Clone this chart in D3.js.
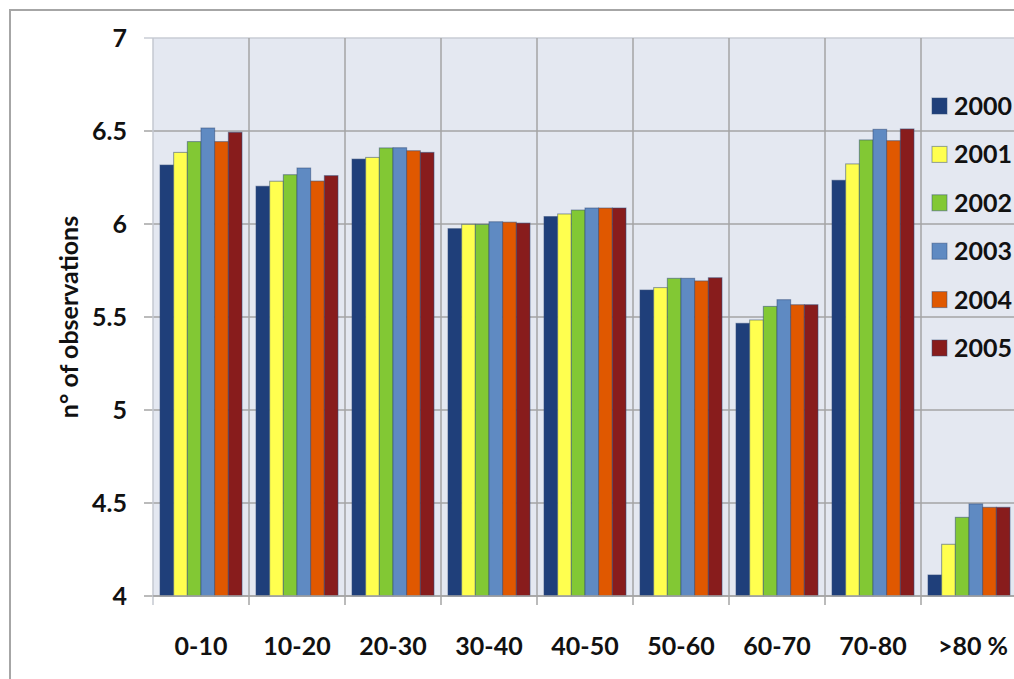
<!DOCTYPE html>
<html>
<head>
<meta charset="utf-8">
<script src="https://cdn.jsdelivr.net/npm/d3@7"></script>
<style>
  html, body { margin: 0; padding: 0; background: #fff; }
  svg { display: block; }
  text { font-family: Lato, "Open Sans", sans-serif; fill: #111; }
</style>
</head>
<body>
<svg id="chart" width="1014" height="679"></svg>
<script>
const categories = ["0-10", "10-20", "20-30", "30-40", "40-50", "50-60", "60-70", "70-80", ">80 %"];
const years = ["2000", "2001", "2002", "2003", "2004", "2005"];
const v2000 = [6.317, 6.203, 6.349, 5.975, 6.040, 5.645, 5.466, 6.235, 4.113];
const v2001 = [6.385, 6.230, 6.358, 5.998, 6.054, 5.658, 5.484, 6.323, 4.278];
const v2002 = [6.443, 6.265, 6.409, 5.998, 6.075, 5.708, 5.557, 6.452, 4.423];
const v2003 = [6.516, 6.301, 6.410, 6.012, 6.086, 5.708, 5.593, 6.509, 4.495];
const v2004 = [6.443, 6.231, 6.394, 6.010, 6.086, 5.694, 5.566, 6.448, 4.477];
const v2005 = [6.493, 6.260, 6.385, 6.005, 6.086, 5.711, 5.566, 6.511, 4.477];
const yTicks = [4, 4.5, 5, 5.5, 6, 6.5, 7];
const colors = ["#1f3f7a", "#ffff4f", "#82c834", "#5f8ac2", "#e05800", "#881c1c"];

const series = [v2000, v2001, v2002, v2003, v2004, v2005];

const svg = d3.select("#chart");
const plot = { left: 153, right: 1017, top: 38, bottom: 596 };

// outer frame
svg.append("rect").attr("x", 10).attr("y", 10).attr("width", 1030).attr("height", 700)
  .attr("fill", "none").attr("stroke", "#a6a6a6").attr("stroke-width", 2);

const x0 = d3.scaleBand().domain(categories).range([plot.left, plot.right]).padding(0);
const x1 = d3.scaleBand().domain(years).range([7, 89]).padding(0);
const y = d3.scaleLinear().domain([4, 7]).range([plot.bottom, plot.top]);

// plot background
svg.append("rect").attr("x", plot.left).attr("y", plot.top)
  .attr("width", plot.right - plot.left).attr("height", plot.bottom - plot.top)
  .attr("fill", "#e4e8f1");

// horizontal gridlines (extend left as ticks)
svg.append("g").selectAll("line").data(yTicks).join("line")
  .attr("x1", plot.left - 9).attr("x2", plot.right)
  .attr("y1", d => y(d)).attr("y2", d => y(d))
  .attr("stroke", d => d === 7 ? "#c8ccd4" : "#a4a4a4").attr("stroke-width", 1.5);

// vertical gridlines at category boundaries (extend below as ticks)
const bounds = categories.map(c => x0(c)).concat([plot.right]);
svg.append("g").selectAll("line").data(bounds).join("line")
  .attr("x1", d => d).attr("x2", d => d)
  .attr("y1", plot.top).attr("y2", plot.bottom + 9)
  .attr("stroke", (d, i) => i === 0 ? "#c4c8d0" : "#a4a4a4").attr("stroke-width", 1.5);

// bars
const flat = [];
categories.forEach((c, ci) => years.forEach((yr, si) => flat.push({ c, yr, si, v: series[si][ci] })));
svg.append("g").selectAll("rect").data(flat).join("rect")
  .attr("x", d => x0(d.c) + x1(d.yr))
  .attr("y", d => y(d.v))
  .attr("width", x1.bandwidth())
  .attr("height", d => y(4) - y(d.v))
  .attr("fill", d => colors[d.si])
  .attr("stroke", "rgba(50,75,120,0.55)")
  .attr("stroke-width", 1);

// bottom axis line
svg.append("line").attr("x1", plot.left).attr("x2", plot.right)
  .attr("y1", plot.bottom).attr("y2", plot.bottom)
  .attr("stroke", "#a4a4a4").attr("stroke-width", 1.5);

// y tick labels
svg.append("g").selectAll("text").data(yTicks).join("text")
  .attr("x", 127).attr("y", d => y(d)).attr("dy", "0.36em")
  .attr("text-anchor", "end")
  .style("font-size", "25px").style("font-weight", "bold")
  .text(d => d);

// x labels
svg.append("g").selectAll("text").data(categories).join("text")
  .attr("x", d => x0(d) + x0.bandwidth() / 2 + (d === ">80 %" ? 4 : 0))
  .attr("y", 655)
  .attr("text-anchor", "middle")
  .style("font-size", "25px").style("font-weight", "bold")
  .text(d => d);

// y axis title
svg.append("text")
  .attr("transform", `translate(78, ${(plot.top + plot.bottom) / 2}) rotate(-90)`)
  .attr("text-anchor", "middle")
  .style("font-size", "25px").style("font-weight", "bold")
  .text("n° of observations");

// legend
const lg = svg.append("g");
years.forEach((yr, i) => {
  const cy = 106 + i * 48.4;
  lg.append("rect").attr("x", 932).attr("y", cy - 8).attr("width", 15).attr("height", 16)
    .attr("fill", colors[i]).attr("stroke", "rgba(50,75,120,0.5)").attr("stroke-width", 1);
  lg.append("text").attr("x", 954).attr("y", cy).attr("dy", "0.36em")
    .style("font-size", "25px").style("font-weight", "bold")
    .text(yr);
});
</script>
</body>
</html>
